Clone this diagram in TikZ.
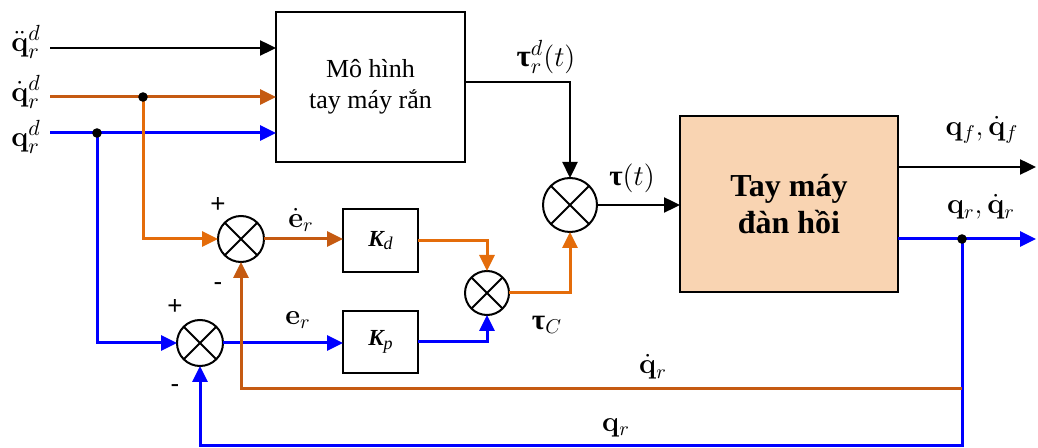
\documentclass[tikz,border=0pt]{standalone}
\usepackage[no-math]{fontspec}
\setmainfont{Liberation Serif}
\newfontfamily\sansf{Liberation Sans}
\usepackage{amsmath}
\usepackage{bm}
\usetikzlibrary{arrows.meta,calc}
\definecolor{dorange}{HTML}{C55A11}
\definecolor{lorange}{HTML}{E46C0A}
\definecolor{pblue}{HTML}{0000FF}
\definecolor{peach}{HTML}{F9D4B2}
\newcommand{\btau}{\mbox{\bfseries τ}}
\tikzset{
  blk/.style={draw, line width=1.2pt, inner sep=0pt, outer sep=0pt, align=center},
  sumnode/.style={circle, draw, line width=1pt, inner sep=0pt, outer sep=0pt, minimum size=#1},
  arr/.style={-{Triangle[length=8pt,width=7.5pt]}},
  bline/.style={line width=1.2pt, black},
  oline/.style={line width=1.5pt, lorange},
  dline/.style={line width=1.5pt, dorange},
  uline/.style={line width=1.5pt, pblue},
  lbl/.style={inner sep=0pt, font=\fontsize{14.5}{17}\selectfont},
  ilbl/.style={inner sep=0pt, font=\fontsize{15}{18}\selectfont},
  sgn/.style={inner sep=0pt, font=\sansf\fontsize{13}{15}\selectfont},
  dotpt/.style={fill=black},
}
\begin{document}
\begin{tikzpicture}[x=0.5pt,y=-0.5pt]
\useasboundingbox (0,0) rectangle (1038,448);

% blocks
\node[blk, minimum width=94.5pt, minimum height=75pt, font=\fontsize{13}{15.5}\selectfont] (box1) at (370.5,87) {Mô hình\\tay máy rắn};
\node[blk, fill=peach, minimum width=109pt, minimum height=88pt, font=\bfseries\fontsize{16}{18.5}\selectfont] (box2) at (789,204) {Tay máy\\đàn hồi};
\node[blk, minimum width=37.5pt, minimum height=31.5pt, font=\fontsize{11.5}{13}\selectfont] (kd) at (380.5,240.5) {{\bfseries\itshape K}\raisebox{-0.35ex}{\itshape\fontsize{9}{10}\selectfont d}};
\node[blk, minimum width=37.5pt, minimum height=31pt, font=\fontsize{11.5}{13}\selectfont] (kp) at (380.5,342) {{\bfseries\itshape K}\raisebox{-0.35ex}{\itshape\fontsize{9}{10}\selectfont p}};

% summing junctions
\node[sumnode=23pt] (s1) at (241,239) {};
\node[sumnode=23pt] (s2) at (200,343) {};
\node[sumnode=22pt] (s3) at (487,293) {};
\node[sumnode=27pt] (s4) at (570,205) {};
\foreach \s in {s1,s2,s3,s4}{
  \draw[line width=1pt] (\s.north west) -- (\s.south east) (\s.north east) -- (\s.south west);
}

% coordinates
\coordinate (a1) at (50,48);
\coordinate (a2) at (50,97);
\coordinate (a3) at (50,133);
\coordinate (d2) at (143,97);
\coordinate (d3) at (97,133);
\coordinate (o1) at (1036,167);
\coordinate (o2) at (1036,239);
\coordinate (d4) at (962,239);
\coordinate (b1) at (962,445);
\coordinate (f1) at (962,389);

% inputs
\draw[bline, arr] (a1) -- (a1 -| box1.west);
\draw[dline, arr] (a2) -- (a2 -| box1.west);
\draw[uline, arr] (a3) -- (a3 -| box1.west);

% branches
\draw[oline, arr] (d2) |- (s1.west);
\draw[uline, arr] (d3) |- (s2.west);

% forward paths
\draw[dline, arr] (s1.east) -- (s1.east -| kd.west);
\draw[uline, arr] (s2.east) -- (s2.east -| kp.west);
\draw[oline, arr] (kd.east) -| (s3.north);
\draw[uline, arr] (kp.east) -| (s3.south);
\draw[oline, arr] (s3.east) -| (s4.south);
\draw[bline, arr] ([yshift=2.5pt]box1.east) -| (s4.north);
\draw[bline, arr] (s4.east) -- (s4.east -| box2.west);

% outputs
\draw[bline, arr] (o1 -| box2.east) -- (o1);
\draw[uline, arr] (o2 -| box2.east) -- (o2);

% feedback
\draw[uline, arr] (d4) -- (b1) -| (s2.south);
\draw[dline, arr] (f1) -| (s1.south);

% dots
\fill[dotpt] (d2) circle (2.4pt);
\fill[dotpt] (d3) circle (2.4pt);
\fill[dotpt] (d4) circle (2.4pt);

% labels
\node[ilbl] (l1) at (26,42) {$\ddot{\mathbf{q}}_r^d$};
\node[ilbl] (l2) at (26,92) {$\dot{\mathbf{q}}_r^d$};
\node[ilbl] (l3) at (26,137) {$\mathbf{q}_r^d$};
\node[inner sep=0pt, font=\fontsize{15.5}{18}\selectfont] (ltd) at (546,57) {$\btau_r^d(t)$};
\node[lbl] (lt) at (632,178) {$\btau(t)$};
\node[lbl] (led) at (301,220) {$\dot{\mathbf{e}}_r$};
\node[lbl] (le) at (298,320) {$\mathbf{e}_r$};
\node[lbl] (ltc) at (547,325) {$\btau_C$};
\node[lbl] (lqf) at (982,130) {$\mathbf{q}_f,\dot{\mathbf{q}}_f$};
\node[lbl] (lqr) at (981,207) {$\mathbf{q}_r,\dot{\mathbf{q}}_r$};
\node[lbl] (lfd) at (653,367) {$\dot{\mathbf{q}}_r$};
\node[lbl] (lfq) at (616,428) {$\mathbf{q}_r$};
\node[sgn] (p1) at (218,205) {+};
\node[sgn] (m1) at (218,287) {-};
\node[sgn] (p2) at (175,307) {+};
\node[sgn] (m2) at (175,389) {-};
\end{tikzpicture}
\end{document}
